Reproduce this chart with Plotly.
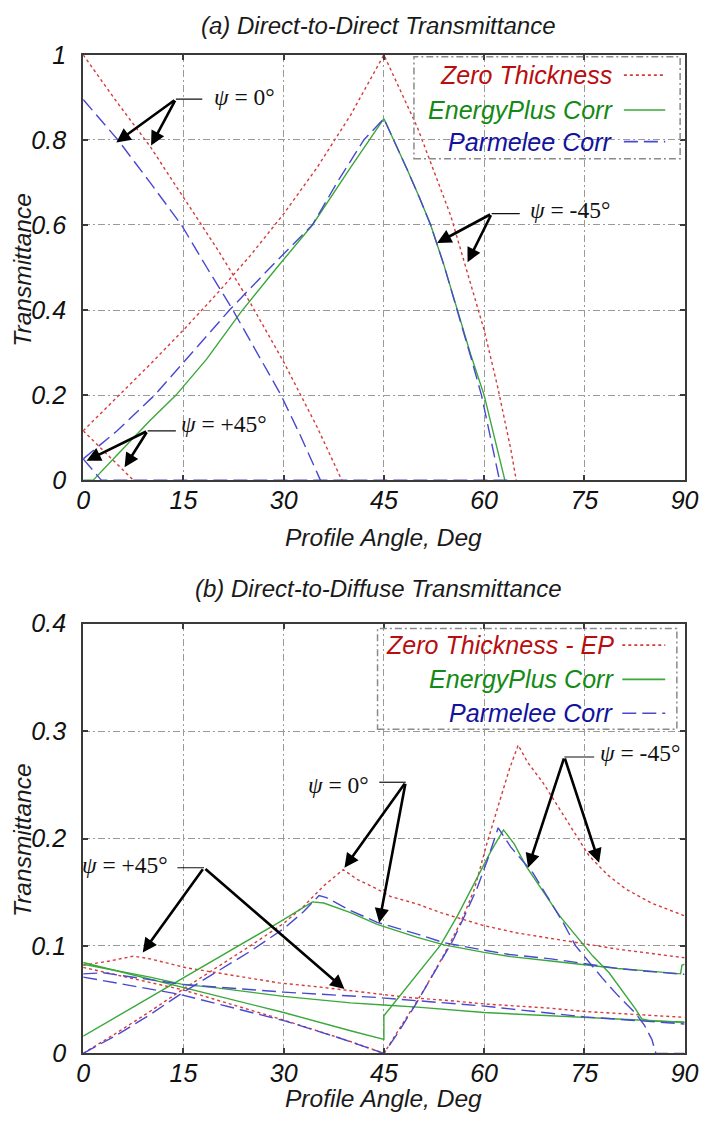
import plotly.graph_objects as go

# ---------------- Data: (a) Direct-to-Direct ----------------
dd_red_p0_x = [0, 5, 10, 15, 20, 25, 30, 35, 38.7]
dd_red_p0_y = [1.0, 0.89, 0.785, 0.665, 0.545, 0.417, 0.278, 0.125, 0.0]
dd_red_m45_x = [0, 5, 10, 15, 20, 25, 30, 35, 40, 45, 50, 55, 60, 62, 64, 64.8]
dd_red_m45_y = [0.116, 0.193, 0.272, 0.353, 0.438, 0.528, 0.626, 0.735, 0.858, 1.0,
                0.83, 0.622, 0.353, 0.221, 0.072, 0.0]
dd_red_p45_x = [0, 2, 4, 6, 7.5]
dd_red_p45_y = [0.116, 0.085, 0.054, 0.023, 0.0]

dd_green_m45_x = [0, 1.5, 5, 10, 13.9, 18.5, 23.6, 29, 34.3, 40, 45, 46.5, 48.5, 50.3,
                  52, 54, 56, 58, 60, 61.5, 63.1]
dd_green_m45_y = [0, 0, 0.058, 0.14, 0.2, 0.285, 0.395, 0.5, 0.6, 0.735, 0.85, 0.80,
                  0.73, 0.665, 0.60, 0.505, 0.40, 0.295, 0.20, 0.10, 0.0]

dd_blue_p0_x = [0, 5.2, 10, 14.7, 18.5, 22.4, 26, 29.6, 32.5, 35.5]
dd_blue_p0_y = [0.895, 0.8, 0.7, 0.6, 0.5, 0.4, 0.3, 0.2, 0.105, 0.0]
dd_blue_m45_x = [0, 5, 10.7, 16, 21.9, 28, 34.3, 38, 42, 45, 46.5, 48.5, 50.3, 52, 54,
                 56, 58, 59.6, 61, 62.3]
dd_blue_m45_y = [0.05, 0.115, 0.2, 0.295, 0.4, 0.5, 0.6, 0.7, 0.8, 0.85, 0.80, 0.73,
                 0.665, 0.60, 0.505, 0.40, 0.29, 0.20, 0.10, 0.0]
dd_blue_p45_x = [0, 2.7, 64]
dd_blue_p45_y = [0.05, 0.0, 0.0]

# ---------------- Data: (b) Direct-to-Diffuse ----------------
df_red_p0_x = [0, 5, 10, 15, 20, 25, 30, 33, 36, 38.9, 41, 44, 46, 50, 53.5, 59.9, 65,
               70, 73.7, 80, 85, 90]
df_red_p0_y = [0, 0.019, 0.039, 0.06, 0.08, 0.1, 0.121, 0.137, 0.156, 0.171, 0.162,
               0.153, 0.146, 0.139, 0.131, 0.119, 0.112, 0.107, 0.103, 0.097, 0.093, 0.089]
df_red_p45_x = [0, 4, 7.5, 10, 15.4, 20, 25, 29.3, 35, 39.2, 44, 48.7, 55, 60, 65, 70,
                75, 80, 85, 90]
df_red_p45_y = [0.082, 0.086, 0.0905, 0.088, 0.0797, 0.075, 0.07, 0.0656, 0.062, 0.059,
                0.055, 0.052, 0.049, 0.046, 0.044, 0.042, 0.039, 0.037, 0.035, 0.0335]
df_red_m45_x = [0, 15, 30, 40, 45, 48, 51, 54, 56.5, 58.5, 60.4, 62, 63.8, 65.1, 66.5,
                68.8, 72.3, 75.7, 78.5, 81.2, 85, 90]
df_red_m45_y = [0.08, 0.059, 0.031, 0.011, 0.0, 0.029, 0.059, 0.092, 0.122, 0.152,
                0.195, 0.228, 0.265, 0.287, 0.271, 0.252, 0.218, 0.184, 0.166, 0.153,
                0.14, 0.128]

df_green_p0_x = [0, 5, 10, 14.4, 20, 25, 29.3, 34.3, 36, 40, 44, 50, 54, 60, 64, 70, 74,
                 80, 84, 89.4, 89.6, 90]
df_green_p0_y = [0.016, 0.034, 0.052, 0.068, 0.088, 0.106, 0.122, 0.141, 0.14, 0.131,
                 0.12, 0.108, 0.101, 0.094, 0.09, 0.086, 0.083, 0.079, 0.077, 0.074,
                 0.082, 0.083]
df_green_p45_x = [0, 5, 10, 14.7, 20, 25, 30, 35, 40, 45, 50, 60, 70, 75, 80, 90]
df_green_p45_y = [0.083, 0.077, 0.071, 0.0644, 0.061, 0.057, 0.053, 0.05, 0.047, 0.045,
                  0.043, 0.038, 0.035, 0.033, 0.032, 0.029]
df_green_m45_x = [0, 14.7, 30, 40, 45, 45, 48, 50, 53.5, 56, 58.9, 61, 62.9, 64.5, 66.3,
                  71.3, 76.2, 78.7, 82.7, 83.6, 85, 90]
df_green_m45_y = [0.0846, 0.062, 0.038, 0.021, 0.013, 0.035, 0.058, 0.074, 0.101, 0.128,
                  0.162, 0.188, 0.208, 0.195, 0.174, 0.128, 0.091, 0.075, 0.041, 0.032,
                  0.03, 0.029]

df_blue_p0_x = [0, 5, 10, 15, 20, 25, 30, 33, 35.3, 36.4, 40, 44, 50, 54, 60, 63.8, 70,
                73.7, 80, 83.6, 90]
df_blue_p0_y = [0, 0.017, 0.036, 0.057, 0.076, 0.095, 0.116, 0.132, 0.147, 0.145, 0.133,
                0.122, 0.111, 0.103, 0.096, 0.092, 0.088, 0.0846, 0.079, 0.0768, 0.0735]
df_blue_p45_x = [0, 3, 15, 30, 44, 60, 75, 90]
df_blue_p45_y = [0.074, 0.075, 0.064, 0.057, 0.052, 0.044, 0.034, 0.0273]
df_blue_m45_x = [0, 14.4, 30.3, 38, 45, 47, 49.9, 52.5, 55.4, 57, 58.9, 60.5, 62.1, 64,
                 67.3, 71.8, 73.7, 77.7, 80, 82.7, 84, 85.1, 85.7, 90]
df_blue_m45_y = [0.071, 0.055, 0.03, 0.015, 0.0, 0.018, 0.047, 0.075, 0.106, 0.127,
                 0.153, 0.18, 0.21, 0.192, 0.168, 0.122, 0.1, 0.07, 0.054, 0.037, 0.026,
                 0.013, 0.0, 0.0]

x_ticks = [0, 15, 30, 45, 60, 75, 90]
top_y_ticks = [0, 0.2, 0.4, 0.6, 0.8, 1.0]
top_y_labels = ["0", "0.2", "0.4", "0.6", "0.8", "1"]
bot_y_ticks = [0, 0.1, 0.2, 0.3, 0.4]
bot_y_labels = ["0", "0.1", "0.2", "0.3", "0.4"]

legend_top = ["Zero Thickness", "EnergyPlus Corr", "Parmelee Corr"]
legend_bot = ["Zero Thickness - EP", "EnergyPlus Corr", "Parmelee Corr"]

# ---------------- Styles ----------------
RED = "#d83a3a"
GREEN = "#3aa83a"
BLUE = "#4848d0"
RED_T = "#b80e0e"
GREEN_T = "#138a13"
BLUE_T = "#12129e"
RED_DASH = "3px,3px"
BLUE_DASH = "14px,6px"

W, H = 706, 1126
# observed: the page appears offset and slightly scaled in the final picture;
# map target picture pixels to figure pixels
SC, OX, OY = 0.978, 6.5, 12.0


def px(sx):
    return (sx - OX) / SC / W


def py(sy):
    return 1 - (sy - OY) / SC / H


def fs(size):
    return size / SC


fig = go.Figure()


def add(xs, ys, color, dash, xa, ya):
    fig.add_trace(go.Scatter(x=xs, y=ys, mode="lines", xaxis=xa, yaxis=ya,
                             line=dict(color=color, width=1.4, dash=dash),
                             showlegend=False, hoverinfo="skip"))


# top panel
for xs, ys in [(dd_red_p0_x, dd_red_p0_y), (dd_red_m45_x, dd_red_m45_y),
               (dd_red_p45_x, dd_red_p45_y)]:
    add(xs, ys, RED, RED_DASH, "x", "y")
add(dd_green_m45_x, dd_green_m45_y, GREEN, "solid", "x", "y")
for xs, ys in [(dd_blue_p0_x, dd_blue_p0_y), (dd_blue_m45_x, dd_blue_m45_y),
               (dd_blue_p45_x, dd_blue_p45_y)]:
    add(xs, ys, BLUE, BLUE_DASH, "x", "y")

# bottom panel
for xs, ys in [(df_red_p0_x, df_red_p0_y), (df_red_p45_x, df_red_p45_y),
               (df_red_m45_x, df_red_m45_y)]:
    add(xs, ys, RED, RED_DASH, "x2", "y2")
for xs, ys in [(df_green_p0_x, df_green_p0_y), (df_green_p45_x, df_green_p45_y),
               (df_green_m45_x, df_green_m45_y)]:
    add(xs, ys, GREEN, "solid", "x2", "y2")
for xs, ys in [(df_blue_p0_x, df_blue_p0_y), (df_blue_p45_x, df_blue_p45_y),
               (df_blue_m45_x, df_blue_m45_y)]:
    add(xs, ys, BLUE, BLUE_DASH, "x2", "y2")

XD = [px(83.3), px(689.5)]
YD_TOP = [py(479.5), py(53)]
YD_BOT = [py(1054.4), py(623.5)]

TICKFONT = dict(family="Liberation Sans", size=fs(24.5), color="#111", style="italic")
GRIDDASH = "7px,3px,2px,3px"

axis_common = dict(showline=True, linecolor="#3a3a3a", linewidth=2, mirror="ticks",
                   ticks="inside", ticklen=5, tickcolor="#3a3a3a", tickwidth=1.5,
                   showgrid=True, gridcolor="#9a9a9a", gridwidth=1, griddash=GRIDDASH,
                   zeroline=False, tickfont=TICKFONT, ticklabeloverflow="allow")

fig.update_layout(
    width=W, height=H, margin=dict(l=0, r=0, t=0, b=0),
    paper_bgcolor="white", plot_bgcolor="white",
    xaxis=dict(domain=XD, anchor="y", range=[0, 90], tickvals=x_ticks,
               ticklabelstandoff=-3, **axis_common),
    yaxis=dict(domain=YD_TOP, anchor="x", range=[0, 1], tickvals=top_y_ticks,
               ticktext=top_y_labels, ticklabelstandoff=10, **axis_common),
    xaxis2=dict(domain=XD, anchor="y2", range=[0, 90], tickvals=x_ticks,
                ticklabelstandoff=-3, **axis_common),
    yaxis2=dict(domain=YD_BOT, anchor="x2", range=[0, 0.4], tickvals=bot_y_ticks,
                ticktext=bot_y_labels, ticklabelstandoff=10, **axis_common),
)

TITLEFONT = dict(family="Liberation Sans", size=fs(23.5), color="#1a1a1a", style="italic")
AXFONT = dict(family="Liberation Sans", size=fs(24), color="#1a1a1a", style="italic")
ann = []
shapes = []

# titles and axis titles
for txt, y in [("(a) Direct-to-Direct Transmittance", 24),
               ("(b) Direct-to-Diffuse Transmittance", 588)]:
    ann.append(dict(text=txt, x=px(381), y=py(y), xref="paper", yref="paper",
                    showarrow=False, font=TITLEFONT, xanchor="center", yanchor="middle"))
for y in [537, 1100]:
    ann.append(dict(text="Profile Angle, Deg", x=px(386), y=py(y), xref="paper",
                    yref="paper", showarrow=False, font=AXFONT, xanchor="center",
                    yanchor="middle"))
for y in [268, 840]:
    ann.append(dict(text="Transmittance", x=px(22), y=py(y), xref="paper",
                    yref="paper", showarrow=False, font=AXFONT, textangle=-90,
                    xanchor="center", yanchor="middle"))

# legends
LEGFONT = dict(family="Liberation Sans", size=fs(24.5), style="italic")
for (bx0, by0, bx1, by1, rows, tx, sx0, sx1, labels) in [
        (416.7, 55, 685, 157.3, [73.3, 108.3, 140], 619, 628.3, 670, legend_top),
        (380, 628.3, 681.7, 729.3, [645, 679.3, 713.3], 620.5, 626.7, 670, legend_bot)]:
    shapes.append(dict(type="rect", xref="paper", yref="paper", x0=px(bx0), x1=px(bx1),
                       y0=py(by1), y1=py(by0),
                       line=dict(color="#8a8a8a", width=1.5, dash=GRIDDASH)))
    for lab, ry, tc, lc, dash in zip(labels, rows, [RED_T, GREEN_T, BLUE_T],
                                     [RED, GREEN, BLUE], [RED_DASH, "solid", BLUE_DASH]):
        ann.append(dict(text=lab, x=px(tx), y=py(ry), xref="paper", yref="paper",
                        showarrow=False, xanchor="right", yanchor="middle",
                        font=dict(color=tc, **LEGFONT)))
        shapes.append(dict(type="line", xref="paper", yref="paper", x0=px(sx0),
                           x1=px(sx1), y0=py(ry), y1=py(ry),
                           line=dict(color=lc, width=1.6, dash=dash)))

# psi annotations
PSIFONT = dict(family="Liberation Serif", size=fs(23), color="#111")
psi = [
    ("x", "y", "<i>ψ</i> = 0°", 19.29, 0.90, 13.87, 17.82, 0.896,
     [(4.96, 0.794), (10.16, 0.787)]),
    ("x", "y", "<i>ψ</i> = -45°", 66.58, 0.635, 61.13, 65.33, 0.6265,
     [(52.96, 0.5576), (57.52, 0.5123)]),
    ("x", "y", "<i>ψ</i> = +45°", 14.36, 0.131, 9.65, 13.87, 0.116,
     [(0.5, 0.0457), (6.19, 0.030)]),
    ("x2", "y2", "<i>ψ</i> = 0°", 33.41, 0.2501, 44.31, 48.26, 0.2524,
     [(39.1, 0.1728), (44.3, 0.1217)]),
    ("x2", "y2", "<i>ψ</i> = +45°", 0.0, 0.1728, 14.1, 18.07, 0.1728,
     [(8.91, 0.0939), (39.1, 0.0598)]),
    ("x2", "y2", "<i>ψ</i> = -45°", 76.97, 0.2796, 72.01, 76.47, 0.2759,
     [(66.58, 0.1728), (77.21, 0.1774)]),
]
for xr, yr, txt, tx, ty, lx0, lx1, ly, tips in psi:
    if tx <= 0:
        # label sits over the left axis edge: place it in paper units
        ann.append(dict(text=txt, x=px(80), y=py(866), xref="paper",
                        yref="paper", showarrow=False, xanchor="left",
                        yanchor="middle", font=PSIFONT))
    else:
        ann.append(dict(text=txt, x=tx, y=ty, xref=xr, yref=yr, showarrow=False,
                        xanchor="left", yanchor="middle", font=PSIFONT))
    shapes.append(dict(type="line", xref=xr, yref=yr, x0=lx0, x1=lx1, y0=ly, y1=ly,
                       line=dict(color="#111", width=1.2)))
    ax0 = lx0 if tx >= lx1 else lx1
    for (tpx, tpy) in tips:
        ann.append(dict(text="", x=tpx, y=tpy, xref=xr, yref=yr, ax=ax0, ay=ly,
                        axref=xr, ayref=yr, showarrow=True, arrowhead=2,
                        arrowsize=1.1, arrowwidth=2.6, arrowcolor="#000",
                        standoff=0, startstandoff=0))

fig.update_layout(annotations=ann, shapes=shapes)
fig.write_html("out.html")
